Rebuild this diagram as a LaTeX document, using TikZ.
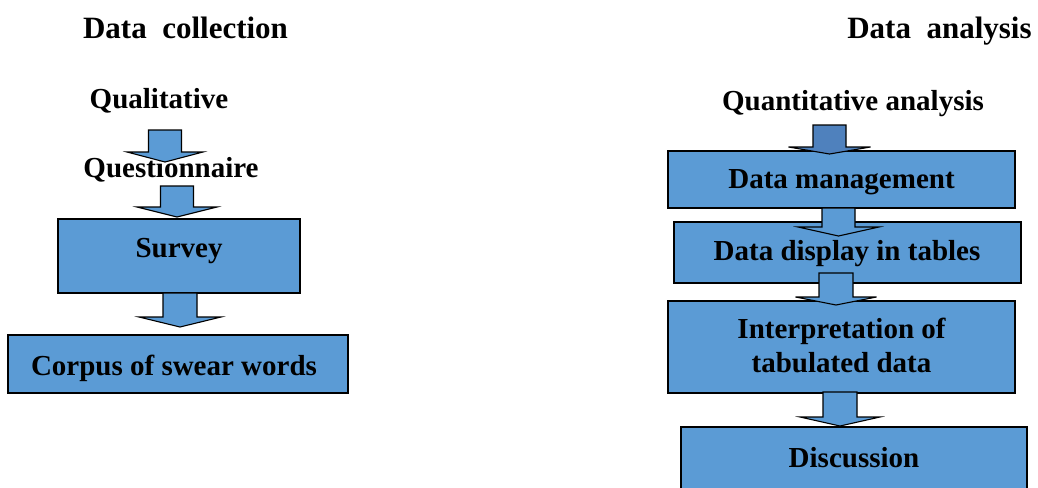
\documentclass[tikz,border=0pt]{standalone}
\usepackage{fontspec}
\setmainfont{Liberation Serif}
\definecolor{boxblue}{HTML}{5B9BD5}
\definecolor{darkblue}{HTML}{4F81BD}
\tikzset{
  lbl/.style={font=\bfseries\fontsize{29}{33}\selectfont, inner sep=0pt, anchor=base, align=center},
  ttl/.style={font=\bfseries\fontsize{31}{35}\selectfont, inner sep=0pt, anchor=base},
  box/.style={draw=black, line width=1.6pt, fill=boxblue, inner sep=0pt},
  barrow/.style={draw=black, line width=1.1pt, line join=miter, fill=boxblue},
}
% #1 fill, #2 cx, #3 ytop, #4 yhead, #5 ytip, #6 shaft half width, #7 head half width
\newcommand\blockarrow[7]{%
  \draw[barrow, fill=#1] ({#2-#6},#3) -- ({#2+#6},#3) -- ({#2+#6},#4) -- ({#2+#7},#4)
    -- (#2,#5) -- ({#2-#7},#4) -- ({#2-#6},#4) -- cycle;}
\begin{document}
\begin{tikzpicture}[x=1pt,y=-1pt]
\clip (0,0) rectangle (1038,487);
\fill[white] (0,0) rectangle (1038,487);
% titles
\node[ttl] (tcoll) at (185.5,38) {Data\ \ collection};
\node[ttl] (tana) at (939.5,38) {Data\ \ analysis};
% left column
\node[lbl] (qual) at (159,108) {Qualitative};
\node[lbl] (quest) at (171,177) {Questionnaire};
\node[box, minimum width=242pt, minimum height=74pt] (survey) at (179,256) {};
\node[lbl] at (179,257) {Survey};
\node[box, minimum width=340pt, minimum height=58pt] (corpus) at (178,364) {};
\node[lbl] at (174,375) {Corpus of swear words};
% right column
\node[lbl] (quant) at (853,110) {Quantitative analysis};
\node[box, minimum width=347pt, minimum height=57pt] (dm) at (841.5,179.5) {};
\node[lbl] at (841.5,188) {Data management};
\node[box, minimum width=347pt, minimum height=61pt] (dd) at (847.5,252.5) {};
\node[lbl] at (847,260) {Data display in tables};
\node[box, minimum width=347pt, minimum height=92pt] (interp) at (841.5,347) {};
\node[lbl] at (841.5,338) {Interpretation of};
\node[lbl] at (841.5,372) {tabulated data};
\node[box, minimum width=346pt, minimum height=72pt] (disc) at (854,463) {};
\node[lbl] at (854,467) {Discussion};
% block arrows
\blockarrow{boxblue}{165}{130}{152}{162}{16.5}{38}
\blockarrow{boxblue}{177}{186}{207}{217}{16.5}{40}
\blockarrow{boxblue}{180}{293}{317}{327}{17}{41}
\blockarrow{darkblue}{829.5}{125}{147}{154}{16.5}{41}
\blockarrow{boxblue}{838.5}{208}{227}{236}{16.5}{40.5}
\blockarrow{boxblue}{836}{273}{297}{305}{17}{40.5}
\blockarrow{boxblue}{840}{392}{417}{426}{17}{40}
\end{tikzpicture}
\end{document}
